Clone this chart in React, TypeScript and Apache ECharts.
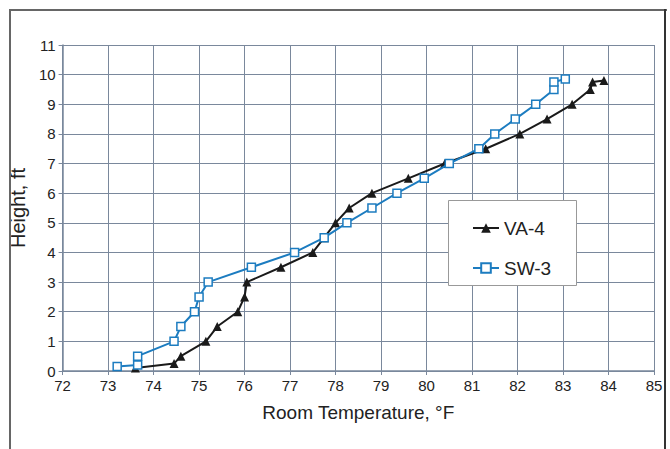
import React, { useEffect, useRef } from "react";
import * as echarts from "echarts";

const xTicks = [72, 85];
const yTicks = [0, 11];

const va4Temp = [73.6, 74.45, 74.6, 75.15, 75.4, 75.85, 76.0, 76.05, 76.8, 77.5, 77.75, 78.0, 78.3, 78.8, 79.6, 80.4, 81.3, 82.05, 82.65, 83.2, 83.6, 83.65, 83.9];
const va4Height = [0.1, 0.25, 0.5, 1.0, 1.5, 2.0, 2.5, 3.0, 3.5, 4.0, 4.5, 5.0, 5.5, 6.0, 6.5, 7.0, 7.5, 8.0, 8.5, 9.0, 9.5, 9.75, 9.8];

const sw3Temp = [73.2, 73.65, 73.65, 74.45, 74.6, 74.9, 75.0, 75.2, 76.15, 77.1, 77.75, 78.25, 78.8, 79.35, 79.95, 80.5, 81.15, 81.5, 81.95, 82.4, 82.8, 82.8, 83.05];
const sw3Height = [0.15, 0.2, 0.5, 1.0, 1.5, 2.0, 2.5, 3.0, 3.5, 4.0, 4.5, 5.0, 5.5, 6.0, 6.5, 7.0, 7.5, 8.0, 8.5, 9.0, 9.5, 9.75, 9.85];

const seriesNames = ["VA-4", "SW-3"];

export default function App() {
  const ref = useRef<HTMLDivElement>(null);
  useEffect(() => {
    if (!ref.current) return;
    const chart = echarts.init(ref.current, undefined, { renderer: "svg" });
    const gridColor = "#7a889c";
    const font = "Liberation Sans, Arial, sans-serif";
    chart.setOption({
      animation: false,
      backgroundColor: "#ffffff",
      textStyle: { fontFamily: font },
      grid: { left: 62, right: 16, top: 45, bottom: 78, containLabel: false },
      xAxis: {
        type: "value",
        min: xTicks[0],
        max: xTicks[1],
        interval: 1,
        name: "Room Temperature, °F",
        nameLocation: "middle",
        nameGap: 32,
        nameTextStyle: { fontSize: 19, color: "#222", fontFamily: font },
        axisLine: { show: true, lineStyle: { color: gridColor, width: 1.5 } },
        axisTick: { show: true, length: 4, lineStyle: { color: gridColor } },
        axisLabel: { fontSize: 15, color: "#222", margin: 7, fontFamily: font },
        splitLine: { show: true, lineStyle: { color: gridColor, width: 1 } },
      },
      yAxis: {
        type: "value",
        min: yTicks[0],
        max: yTicks[1],
        interval: 1,
        name: "Height, ft",
        nameLocation: "middle",
        nameGap: 21,
        nameTextStyle: { fontSize: 20, color: "#222", fontFamily: font },
        axisLine: { show: true, lineStyle: { color: gridColor, width: 1.5 } },
        axisTick: { show: true, length: 4, lineStyle: { color: gridColor } },
        axisLabel: { fontSize: 15, color: "#222", margin: 7, fontFamily: font },
        splitLine: { show: true, lineStyle: { color: gridColor, width: 1 } },
      },
      legend: {
        left: 467,
        top: 213,
        orient: "vertical",
        itemGap: 20,
        itemWidth: 26,
        itemHeight: 12,
        z: 20,
        textStyle: { fontSize: 19, color: "#222", lineHeight: 20, fontFamily: font },
        data: seriesNames,
      },
      graphic: [
        { type: "rect", shape: { x: 9, y: 9, width: 658, height: 2 }, style: { fill: "#666" }, silent: true, z: 100 },
        { type: "rect", shape: { x: 9, y: 9, width: 2, height: 445 }, style: { fill: "#666" }, silent: true, z: 100 },
        { type: "rect", shape: { x: 664, y: 9, width: 2, height: 445 }, style: { fill: "#333" }, silent: true, z: 100 },
        {
          type: "rect",
          shape: { x: 448.5, y: 200.5, width: 128, height: 85 },
          style: { fill: "#ffffff", stroke: "#999", lineWidth: 1 },
          silent: true,
          z: 5,
        },
      ],
      series: [
        {
          name: seriesNames[0],
          type: "line",
          data: va4Temp.map((t, i) => [t, va4Height[i]]),
          symbol: "triangle",
          symbolSize: 9,
          lineStyle: { color: "#1a1a1a", width: 2 },
          itemStyle: { color: "#1a1a1a" },
          z: 3,
        },
        {
          name: seriesNames[1],
          type: "line",
          data: sw3Temp.map((t, i) => [t, sw3Height[i]]),
          symbol: "rect",
          symbolSize: 8,
          lineStyle: { color: "#1c7cc0", width: 2 },
          itemStyle: { color: "#ffffff", borderColor: "#1c7cc0", borderWidth: 1.5 },
          z: 4,
        },
      ],
    });
    return () => chart.dispose();
  }, []);
  return (
    <div
      ref={ref}
      style={{ position: "fixed", left: 0, top: 0, width: 670, height: 449 }}
    />
  );
}
